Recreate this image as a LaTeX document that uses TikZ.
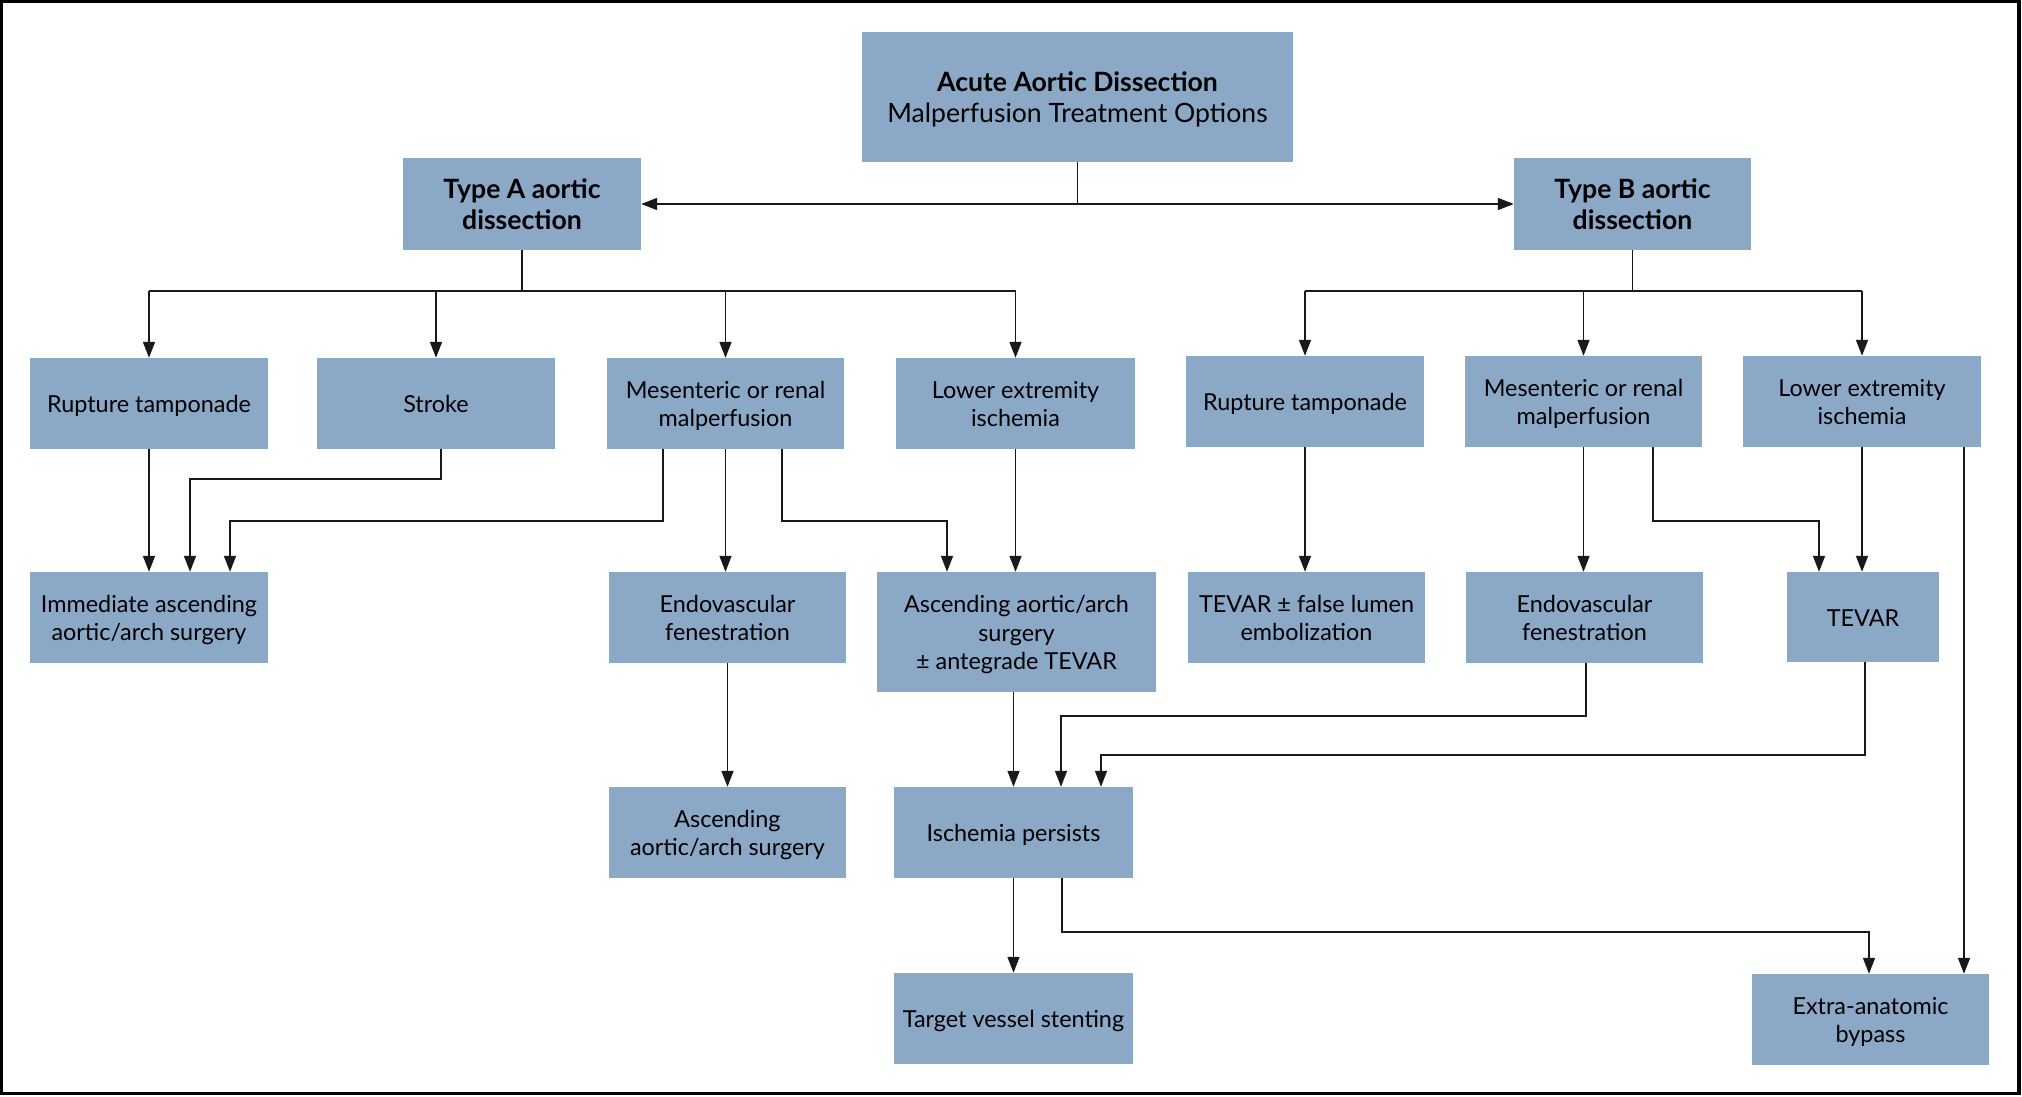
\documentclass[tikz,border=0pt]{standalone}
\usepackage{fontspec}
\setmainfont{Lato}
\usetikzlibrary{arrows.meta}
\definecolor{boxblue}{RGB}{139,169,199}
\definecolor{linegray}{RGB}{25,25,25}
\begin{document}
\begin{tikzpicture}[x=1pt,y=-1pt,
  box/.style={fill=boxblue, draw=none, align=center, inner sep=2pt,
    font=\fontsize{23.4}{28.4}\selectfont,
    text height=22.5pt, text depth=4pt},
  mbox/.style={box, text height=50.6pt, text depth=4pt},
  tbox/.style={box, text height=79pt, text depth=4pt},
  headbox/.style={box, font=\fontsize{26.6}{31}\selectfont,
    text height=51pt, text depth=0pt},
  line/.style={draw=linegray, line width=1.6pt},
  arr/.style={line, -{Triangle[length=16pt,width=12pt]}},
  every node/.append style={text=black}]
\useasboundingbox (0,0) rectangle (2022,1097);
\fill[white] (0,0) rectangle (2022,1097);
\draw[line width=3.4pt] (1.7,1.7) rectangle (2018.8,1093.2);

% nodes
\node[headbox, minimum width=431pt, minimum height=130pt,
  text height=55pt, text depth=4pt] (title) at (1077.5,97)
  {\textbf{Acute Aortic Dissection}\\Malperfusion Treatment Options};
\node[headbox, minimum width=238pt, minimum height=92pt] (typeA) at (522,204)
  {\textbf{Type A aortic}\\\textbf{dissection}};
\node[headbox, minimum width=237pt, minimum height=92pt] (typeB) at (1632.5,204)
  {\textbf{Type B aortic}\\\textbf{dissection}};

\node[box, minimum width=238pt, minimum height=91pt] (rA) at (149,403.5) {Rupture tamponade};
\node[box, minimum width=238pt, minimum height=91pt] (stroke) at (436,403.5) {Stroke};
\node[mbox, minimum width=237pt, minimum height=91pt] (mesA) at (725.5,403.5) {Mesenteric or renal\\malperfusion};
\node[mbox, minimum width=239pt, minimum height=91pt] (lowA) at (1015.5,403.5) {Lower extremity\\ischemia};
\node[box, minimum width=238pt, minimum height=91pt] (rB) at (1305,401.5) {Rupture tamponade};
\node[mbox, minimum width=237pt, minimum height=91pt] (mesB) at (1583.5,401.5) {Mesenteric or renal\\malperfusion};
\node[mbox, minimum width=238pt, minimum height=91pt] (lowB) at (1862,401.5) {Lower extremity\\ischemia};

\node[mbox, minimum width=238pt, minimum height=91pt] (imm) at (149,617.5) {Immediate ascending\\aortic/arch surgery};
\node[mbox, minimum width=237pt, minimum height=91pt] (endoA) at (727.5,617.5) {Endovascular\\fenestration};
\node[tbox, minimum width=279pt, minimum height=120pt] (ascA) at (1016.5,632) {Ascending aortic/arch\\surgery\\± antegrade TEVAR};
\node[mbox, minimum width=237pt, minimum height=91pt] (tevf) at (1306.5,617.5) {TEVAR ± false lumen\\embolization};
\node[mbox, minimum width=237pt, minimum height=91pt] (endoB) at (1584.5,617.5) {Endovascular\\fenestration};
\node[box, minimum width=152pt, minimum height=90pt] (tevar) at (1863,617) {TEVAR};

\node[mbox, minimum width=237pt, minimum height=91pt] (asc2) at (727.5,832.5) {Ascending\\aortic/arch surgery};
\node[box, minimum width=239pt, minimum height=91pt] (isch) at (1013.5,832.5) {Ischemia persists};
\node[box, minimum width=239pt, minimum height=91pt] (target) at (1013.5,1018.5) {Target vessel stenting};
\node[mbox, minimum width=237pt, minimum height=91pt] (extra) at (1870.5,1019.5) {Extra-anatomic\\bypass};

% top connectors
\coordinate (tj) at (title.south |- typeA.east);
\draw[line] (title.south) -- (tj);
\draw[arr] (tj) -- (typeA.east);
\draw[arr] (tj) -- (typeB.west);

% type A bus
\coordinate (busA) at (522,291);
\draw[line] (typeA.south) -- (busA);
\draw[line] (rA.north |- busA) -- (lowA.north |- busA);
\foreach \n in {rA,stroke,mesA,lowA} \draw[arr] (\n.north |- busA) -- (\n.north);

% type B bus
\coordinate (busB) at (1632.5,291);
\draw[line] (typeB.south) -- (busB);
\draw[line] (rB.north |- busB) -- (lowB.north |- busB);
\foreach \n in {rB,mesB,lowB} \draw[arr] (\n.north |- busB) -- (\n.north);

% type A lower connectors
\draw[arr] (rA.south) -- (imm.north);
\draw[arr] ([xshift=5pt]stroke.south) -- ++(0,30) -| ([xshift=41pt]imm.north);
\draw[arr] ([xshift=-62.5pt]mesA.south) -- ++(0,72) -| ([xshift=81pt]imm.north);
\draw[arr] (mesA.south) -- (mesA.south |- endoA.north);
\draw[arr] ([xshift=56.5pt]mesA.south) -- ++(0,72) -| ([xshift=-69.5pt]ascA.north);
\draw[arr] (lowA.south) -- (lowA.south |- ascA.north);
\draw[arr] (endoA.south) -- (asc2.north);
\draw[arr] (isch.north |- ascA.south) -- (isch.north);

% type B lower connectors
\draw[arr] (rB.south) -- (rB.south |- tevf.north);
\draw[arr] (mesB.south) -- (mesB.south |- endoB.north);
\draw[arr] ([xshift=69.5pt]mesB.south) -- ++(0,74) -| ([xshift=-44pt]tevar.north);
\draw[arr] (lowB.south) -- (lowB.south |- tevar.north);
\draw[arr] ([xshift=102pt]lowB.south) -- ([xshift=102pt]lowB.south |- extra.north);
\draw[arr] ([xshift=1.5pt]endoB.south) -- ++(0,53) -| ([xshift=47.5pt]isch.north);
\draw[arr] ([xshift=2pt]tevar.south) -- ++(0,92.5) -| ([xshift=87.5pt]isch.north);

% ischemia persists
\draw[arr] (isch.south) -- (target.north);
\draw[arr] ([xshift=48.5pt]isch.south) -- ++(0,54) -| ([xshift=-1.5pt]extra.north);
\end{tikzpicture}
\end{document}
